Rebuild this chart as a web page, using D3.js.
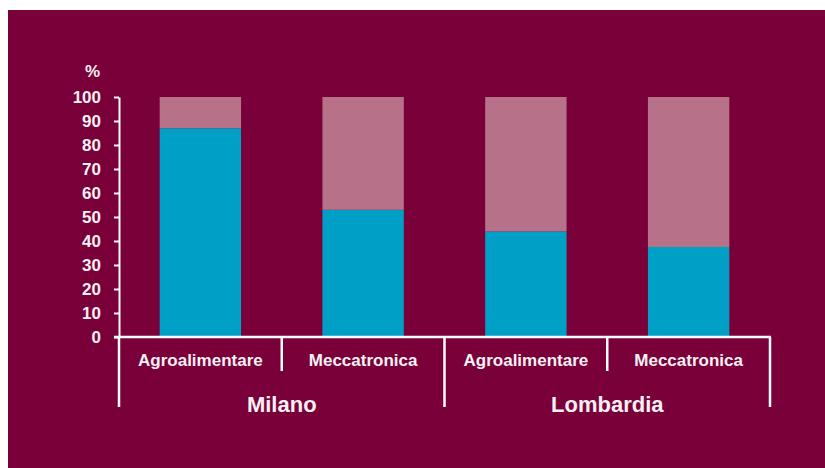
<!DOCTYPE html>
<html>
<head>
<meta charset="utf-8">
<script src="https://cdn.jsdelivr.net/npm/d3@7"></script>
<style>
  html, body { margin: 0; padding: 0; background: #ffffff; }
  svg { display: block; }
  text { font-family: "Liberation Sans", Arial, sans-serif; font-weight: bold; fill: #f7f1f4; }
</style>
</head>
<body>
<svg id="chart" width="825" height="468"></svg>
<script>
// Regions and sectors shown along the bottom axis
const groups = ["Milano", "Lombardia"];
const sectors = ["Agroalimentare", "Meccatronica"];
// Share (%) of each column: lower (blue) and upper (pink) part
const lowerShare = [87, 53, 44, 37.5];
const upperShare = [13, 47, 56, 62.5];
const yTicks = [0, 10, 20, 30, 40, 50, 60, 70, 80, 90, 100];

const colors = { bg: "#7a0039", lower: "#009fc5", upper: "#b77189", line: "#ffffff" };

const svg = d3.select("#chart");
const W = 825, H = 468;

// panel
svg.append("rect").attr("x", 8).attr("y", 10).attr("width", W - 8).attr("height", H - 10)
  .attr("fill", colors.bg);

const plot = { left: 119, right: 770, top: 97, bottom: 337 };

const columns = [];
groups.forEach((g, gi) => sectors.forEach((s, si) => {
  const i = gi * sectors.length + si;
  columns.push({ key: g + "|" + s, group: g, sector: s, lower: lowerShare[i], upper: upperShare[i] });
}));

const x = d3.scaleBand()
  .domain(columns.map(d => d.key))
  .range([plot.left, plot.right])
  .paddingInner(0.5)
  .paddingOuter(0.25);

const y = d3.scaleLinear().domain([0, 100]).range([plot.bottom, plot.top]);

const stack = d3.stack().keys(["lower", "upper"]);
const series = stack(columns);

svg.append("g").selectAll("g")
  .data(series)
  .join("g")
  .attr("fill", d => colors[d.key])
  .selectAll("rect")
  .data(d => d)
  .join("rect")
  .attr("x", d => x(d.data.key))
  .attr("width", x.bandwidth())
  .attr("y", d => y(d[1]))
  .attr("height", d => y(d[0]) - y(d[1]));

// y axis
const yAxis = d3.axisLeft(y).tickValues(yTicks).tickSize(5).tickSizeOuter(0).tickPadding(13);
const gy = svg.append("g").attr("transform", `translate(${plot.left},0)`).call(yAxis);
gy.select(".domain").attr("stroke", colors.line).attr("stroke-width", 2);
gy.selectAll(".tick line").attr("stroke", colors.line).attr("stroke-width", 2);
gy.selectAll(".tick text")
  .attr("font-size", 17).attr("font-family", null).attr("fill", "#f7f1f4");

svg.append("text").attr("x", 100).attr("y", 77).attr("text-anchor", "end")
  .attr("font-size", 17).text("%");

// x axis baseline
svg.append("line")
  .attr("x1", plot.left - 5).attr("x2", plot.right + 1)
  .attr("y1", y(0)).attr("y2", y(0))
  .attr("stroke", colors.line).attr("stroke-width", 2.5);

// separators between columns: long at region edges, short between sectors
const step = x.step();
const edges = [];
columns.forEach((d, i) => {
  edges.push({ pos: x(d.key) - step * x.paddingInner() / 2 - (i === 0 ? step * (x.paddingOuter() - x.paddingInner() / 2) : 0),
               long: i % sectors.length === 0 });
});
edges.push({ pos: plot.right, long: true });
svg.append("g").selectAll("line")
  .data(edges)
  .join("line")
  .attr("x1", d => d.pos).attr("x2", d => d.pos)
  .attr("y1", y(0)).attr("y2", d => d.long ? 407 : 371)
  .attr("stroke", colors.line).attr("stroke-width", 2.5);

// sector labels
svg.append("g").selectAll("text")
  .data(columns)
  .join("text")
  .attr("x", d => x(d.key) + x.bandwidth() / 2)
  .attr("y", 366)
  .attr("text-anchor", "middle")
  .attr("font-size", 17)
  .text(d => d.sector);

// region labels
svg.append("g").selectAll("text")
  .data(groups)
  .join("text")
  .attr("x", g => {
    const ks = columns.filter(c => c.group === g).map(c => x(c.key) + x.bandwidth() / 2);
    return d3.mean(ks);
  })
  .attr("y", 412)
  .attr("text-anchor", "middle")
  .attr("font-size", 22)
  .text(g => g);
</script>
</body>
</html>
